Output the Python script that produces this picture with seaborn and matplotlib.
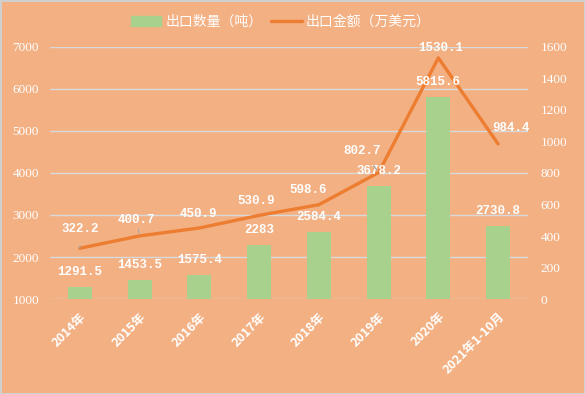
import seaborn as sns
import matplotlib.pyplot as plt
import numpy as np
from matplotlib.lines import Line2D
from matplotlib.patches import Patch

# data
years = ['2014年', '2015年', '2016年', '2017年', '2018年', '2019年', '2020年', '2021年1-10月']
qty = [1291.5, 1453.5, 1575.4, 2283, 2584.4, 3678.2, 5815.6, 2730.8]
amount = [322.2, 400.7, 450.9, 530.9, 598.6, 802.7, 1530.1, 984.4]
qty_ticks = [1000, 2000, 3000, 4000, 5000, 6000, 7000]
amt_ticks = [0, 200, 400, 600, 800, 1000, 1200, 1400, 1600]

bg = '#F3B083'
bar_c = '#A9D18E'
line_c = '#ED7D31'

sns.set_style('white')
plt.rcParams['font.family'] = ['Noto Sans CJK SC', 'DejaVu Sans']

fig = plt.figure(figsize=(5.85, 3.94), dpi=100, facecolor=bg, edgecolor='#D0D0D0', linewidth=2)
ax = fig.add_axes([0.0855, 0.241, 0.817, 0.640])
ax.set_facecolor(bg)

x = np.arange(len(years))
sns.barplot(x=x, y=qty, color=bar_c, width=0.4, saturation=1, linewidth=0, ax=ax, zorder=2)
ax.set_ylim(1000, 7000)
ax.set_xlim(-0.5, len(years) - 0.5)
ax.set_yticks(qty_ticks)
ax.yaxis.grid(True, color='#D9D9D9', lw=1, zorder=0)
ax.set_axisbelow(True)
ax.set_xticks(x)
ax.set_xticklabels(years, rotation=45, ha='right', rotation_mode='anchor',
                   color='white', fontsize=9, fontweight='bold')
for lab in ax.get_yticklabels():
    lab.set_family('Liberation Serif')
    lab.set_color('white')
    lab.set_fontsize(9.5)
ax.tick_params(length=0, pad=8)
for s in ax.spines.values():
    s.set_visible(False)

ax2 = ax.twinx()
ax2.patch.set_visible(False)
sns.lineplot(x=x, y=amount, color=line_c, lw=2.4, ax=ax2)
ax2.set_ylim(0, 1600)
ax2.set_yticks(amt_ticks)
for lab in ax2.get_yticklabels():
    lab.set_family('Liberation Serif')
    lab.set_color('white')
    lab.set_fontsize(9.5)
ax2.tick_params(length=0, pad=9)
for s in ax2.spines.values():
    s.set_visible(False)

# bar labels drawn on the top axes so they sit above the line
for i, v in enumerate(qty):
    ax2.annotate(f'{v:g}', (i, v), xycoords=ax.transData, xytext=(0, 15),
                 textcoords='offset pixels', ha='center', va='center', color='white',
                 fontsize=9, family='Liberation Mono', fontweight='bold', zorder=5)

# label offsets (pixels) and whether a leader line is drawn
offs = [(0, 19, True), (-3, 16, True), (-1, 14, False), (-3, 14, False),
        (-11, 15, False), (-16, 22, True), (2, 10, False), (13, 16, False)]
for i, v in enumerate(amount):
    dx, dy, lead = offs[i]
    kw = {}
    if lead:
        kw['arrowprops'] = dict(arrowstyle='-', color='#A6A6A6', lw=0.8, shrinkA=5, shrinkB=2)
    ax2.annotate(f'{v:g}', (i, v), xytext=(dx, dy), textcoords='offset pixels',
                 ha='center', va='center', color='white', fontsize=9,
                 family='Liberation Mono', fontweight='bold', zorder=5, **kw)

handles = [Patch(color=bar_c), Line2D([0], [0], color=line_c, lw=2.4)]
fig.legend(handles, ['出口数量（吨）', '出口金额（万美元）'], loc='center', ncol=2,
           bbox_to_anchor=(0.48, 0.945), frameon=False, fontsize=10,
           labelcolor='white', handlelength=2.2, handletextpad=0.3, columnspacing=0.6)

fig.savefig('out.png', dpi=100, facecolor=bg, edgecolor=fig.get_edgecolor())
